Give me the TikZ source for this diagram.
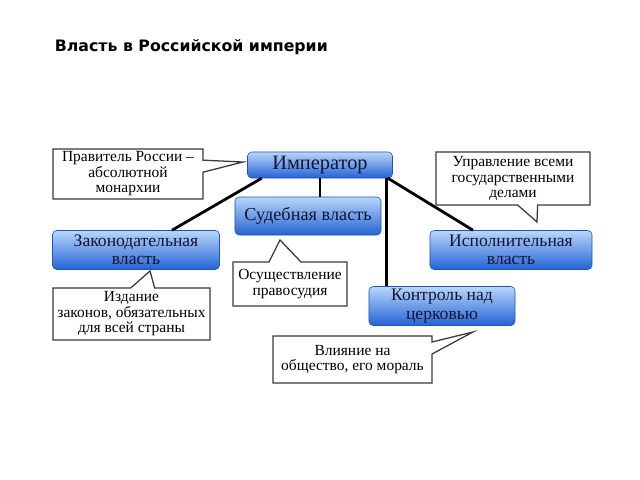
\documentclass[tikz,border=0pt]{standalone}
\usepackage{fontspec}
\setmainfont{Liberation Serif}
\newfontfamily\titlefont{DejaVu Sans}
\usepackage{xcolor}
\definecolor{cTop}{HTML}{B8D6FB}
\definecolor{cMid}{HTML}{4A8AEA}
\definecolor{cBot}{HTML}{2463D4}
\definecolor{cText}{HTML}{141430}
\definecolor{cNote}{HTML}{3A3A3A}
\usepackage{tikz}
\usetikzlibrary{positioning,calc,shapes.callouts}
\tikzset{
  power-box/.style={rectangle,rounded corners=3pt,draw=cBot!85!black,thin,
    top color=cTop,middle color=cMid,bottom color=cBot,
    align=center,text=cText,inner sep=1pt,
    font=\fontsize{12.5}{13}\selectfont},
  note-box/.style={rectangle callout,draw=cNote,line width=0.9pt,fill=white,
    align=center,inner sep=1pt,font=\fontsize{11}{11}\selectfont},
  link/.style={line width=2pt,draw=black},
}

\begin{document}
\begin{tikzpicture}[x=0.025cm,y=-0.025cm]
  \useasboundingbox[fill=white] (0,0) rectangle (640,480);
  \node[anchor=west,font=\titlefont\bfseries\fontsize{11.2}{13}\selectfont]
    (title) at (50,47.5) {Власть в Российской империи};

  % ветви власти
  \node[power-box,minimum width=3.625cm,minimum height=0.65cm,
    font=\fontsize{14.5}{15}\selectfont]                      (imp) at (320,165) {Император};
  \node[power-box,minimum width=3.65cm,minimum height=0.95cm,
    font=\fontsize{13}{14}\selectfont]                        (sud) at (308,216) {Судебная власть};
  \node[power-box,minimum width=4.175cm,minimum height=0.975cm] (zak) at (136,250) {Законодательная\\власть};
  \node[power-box,minimum width=4.05cm,minimum height=0.975cm]  (isp) at (511,250) {Исполнительная\\власть};
  \node[power-box,minimum width=3.65cm,minimum height=0.975cm]  (cer) at (442,306) {Контроль над\\церковью};

  \coordinate (p-ruler)  at (243,162);
  \coordinate (p-exec)   at (537,222);
  \coordinate (p-law)    at (150,271);
  \coordinate (p-court)  at (280,240);
  \coordinate (p-church) at (473,332);

  \node[note-box,minimum width=3.75cm,minimum height=1.25cm,
    callout absolute pointer=(p-ruler),callout pointer width=3mm]   (n-ruler)  at (128,174)
    {Правитель России –\\абсолютной\\монархии};
  \node[note-box,minimum width=3.85cm,minimum height=1.325cm,
    callout absolute pointer=(p-exec),callout pointer width=5mm]    (n-exec)   at (513,178.5)
    {Управление всеми\\государственными\\делами};
  \node[note-box,minimum width=3.925cm,minimum height=1.3cm,
    callout absolute pointer=(p-law),callout pointer width=6mm]     (n-law)    at (131.5,314)
    {Издание\\законов, обязательных\\для всей страны};
  \node[note-box,minimum width=2.85cm,minimum height=1.1cm,
    callout absolute pointer=(p-court),callout pointer width=8mm]   (n-court)  at (290,284)
    {Осуществление\\правосудия};
  \node[note-box,minimum width=3.975cm,minimum height=1.175cm,
    callout absolute pointer=(p-church),callout pointer width=3mm]  (n-church) at (352.5,359.5)
    {Влияние на\\общество, его мораль};

  \draw[link] ([xshift=3.6mm]imp.south west) -- ([xshift=9mm]zak.north);
  \draw[link] (imp.south) -- (imp.south |- sud.north);
  \draw[link] ([xshift=-1.6mm]imp.south east) -- ([xshift=-1.6mm]imp.south east |- cer.north);
  \draw[link] ([xshift=-1.2mm]imp.south east) -- ([xshift=-9.5mm]isp.north);
\end{tikzpicture}
\end{document}
